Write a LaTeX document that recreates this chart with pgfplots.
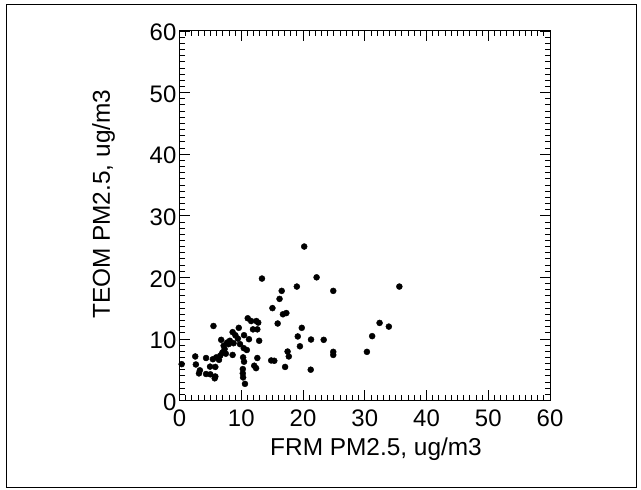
\documentclass[border=0pt]{standalone}
\usepackage{pgfplots}
\pgfplotsset{compat=1.18}
\usepackage{fontspec}
\setmainfont{Liberation Sans}
\begin{document}
\begin{tikzpicture}[x=1bp,y=1bp]
\useasboundingbox (0,0) rectangle (641,490);
\draw[line width=1.2bp] (6.5,2.7) rectangle (636.5,485.5);
\begin{axis}[
 scale only axis, width=370.5bp, height=369.5bp,
 at={(179.5bp,89.5bp)}, anchor=south west,
 xmin=0,xmax=60,ymin=0,ymax=60,
 xtick={0,10,...,60}, ytick={0,10,...,60},
 minor tick num=9,
 tick align=inside, tick pos=both,
 major tick length=10bp, minor tick length=5bp,
 axis line style={line width=1bp},
 every tick/.style={line width=0.8bp, black},
 /pgf/number format/assume math mode=true,
 ticklabel style={font=\fontsize{24}{28}\selectfont, inner sep=0pt},
 xticklabel style={anchor=north, yshift=-9.5bp},
 yticklabel style={anchor=east, xshift=-3bp, yshift=-1.5bp},
 xlabel={FRM PM2.5, ug/m3},
 ylabel={TEOM PM2.5, ug/m3},
 label style={font=\fontsize{24.5}{29}\selectfont, inner sep=0pt},
 xlabel style={at={(axis description cs:0.5304,-0.1502)}, anchor=base},
 ylabel style={at={(axis description cs:-0.1876,0.531)}, anchor=base, rotate=0},
]
\addplot[only marks, mark=*, mark size=3bp, black] table {
x y
0.35 5.9
2.55 7.15
2.65 5.85
3.3 4.9
3.15 4.4
4.3 4.3
4.3 6.9
4.95 5.5
5.5 12.1
5.0 4.25
5.8 3.9
5.7 3.6
5.8 5.45
5.4 6.7
5.95 7.0
6.4 6.6
6.6 7.3
6.95 7.8
6.75 9.85
7.15 8.9
7.3 8.35
7.5 7.6
7.7 9.4
7.95 9.15
8.15 9.7
8.6 7.4
8.6 11.1
8.75 9.3
9.05 10.6
9.45 10.05
9.6 11.8
9.8 9.15
10.45 10.6
10.4 8.5
10.3 7.0
10.45 6.3
10.25 5.1
10.25 4.4
10.3 3.75
10.6 2.7
10.9 8.2
11.05 13.35
11.25 9.95
11.6 12.9
11.9 11.55
12.1 5.65
12.4 5.25
12.45 12.9
12.6 11.55
12.75 12.65
12.6 6.9
12.9 9.7
13.35 19.8
14.85 6.5
15.05 15.0
15.35 6.45
15.9 12.5
16.2 16.5
16.55 17.8
16.75 14.0
17.3 14.2
17.1 5.45
17.5 7.95
17.7 7.15
19.0 18.5
19.15 10.4
19.5 8.8
19.8 11.8
20.2 25.0
21.3 9.9
21.25 5.0
22.2 20.0
23.35 9.85
24.9 17.8
24.9 7.9
24.9 7.4
30.35 7.9
31.2 10.45
32.4 12.6
33.9 12.0
35.6 18.5
};
\end{axis}
\end{tikzpicture}
\end{document}
